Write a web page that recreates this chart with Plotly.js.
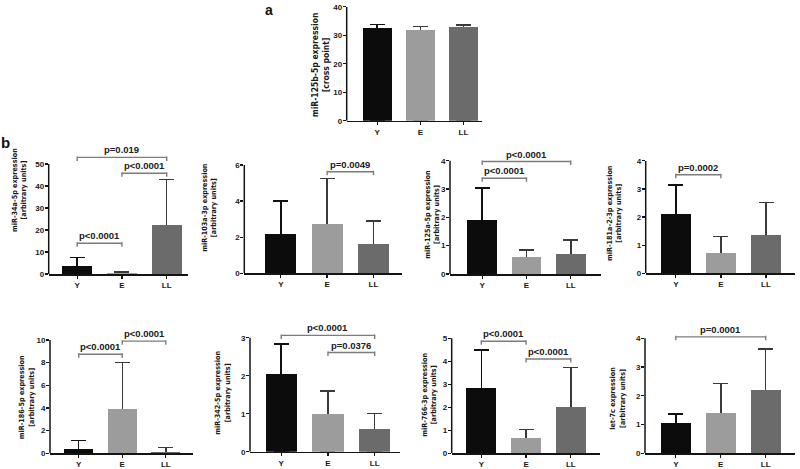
<!DOCTYPE html>
<html><head><meta charset="utf-8">
<script src="https://cdn.plot.ly/plotly-3.0.1.min.js"></script>
<style>html,body{margin:0;padding:0;background:#fff}#chart{width:800px;height:469px}</style>
</head><body><div id="chart"></div>
<script>
// ---------- data ----------
const groups = ['Y', 'E', 'LL'];

const titleA    = 'miR-125b-5p expression<br>[cross point]';
const title34a  = 'miR-34a-5p expression<br>[arbitrary units]';
const title103a = 'miR-103a-3p expression<br>[arbitrary units]';
const title125a = 'miR-125a-5p expression<br>[arbitrary units]';
const title181a = 'miR-181a-2-3p expression<br>[arbitrary units]';
const title186  = 'miR-186-5p expression<br>[arbitrary units]';
const title342  = 'miR-342-5p expression<br>[arbitrary units]';
const title766  = 'miR-766-3p expression<br>[arbitrary units]';
const titleLet7c = 'let-7c expression<br>[arbitrary units]';

const meanA = [32.5, 31.8, 32.9];   const errA = [1.2, 1.2, 0.6];
const mean34a = [3.7, 0.5, 22.1];   const err34a = [3.7, 0.3, 20.8];
const mean103a = [2.18, 2.73, 1.64]; const err103a = [1.82, 2.53, 1.26];
const mean125a = [1.91, 0.59, 0.72]; const err125a = [1.13, 0.26, 0.48];
const mean181a = [2.10, 0.71, 1.37]; const err181a = [1.04, 0.59, 1.14];
const mean186 = [0.41, 3.9, 0.15];  const err186 = [0.71, 4.1, 0.35];
const mean342 = [2.04, 0.99, 0.60]; const err342 = [0.79, 0.61, 0.41];
const mean766 = [2.83, 0.65, 2.01]; const err766 = [1.66, 0.39, 1.73];
const meanLet7c = [1.04, 1.39, 2.20]; const errLet7c = [0.32, 1.04, 1.42];

// significance brackets: [from group, to group, level, label]
const sigA = [];
const sig34a = [[0, 2, 53, 'p=0.019'], [1, 2, 45.8, 'p<0.0001'], [0, 1, 14, 'p<0.0001']];
const sig103a = [[1, 2, 5.63, 'p=0.0049']];
const sig125a = [[0, 2, 3.97, 'p<0.0001'], [0, 1, 3.38, 'p<0.0001']];
const sig181a = [[0, 1, 3.5, 'p=0.0002']];
const sig186 = [[0, 1, 8.74, 'p<0.0001'], [1, 2, 9.9, 'p<0.0001']];
const sig342 = [[0, 2, 3.06, 'p<0.0001'], [1, 2, 2.61, 'p=0.0376']];
const sig766 = [[0, 1, 4.87, 'p<0.0001'], [1, 2, 4.1, 'p<0.0001']];
const sigLet7c = [[0, 2, 4.05, 'p=0.0001']];

// ---------- layout geometry (pixels) ----------
const W = 800, H = 469;
const geo = [
  {left:346.7, right:481.5, zero:120.7, maxPx:6.7,   maxTick:40, dtick:10, c0:377.2, sp:43.1,  tx:320.3, ty:65,    ts:8.5},
  {left:48.7,  right:188,   zero:274,   maxPx:164,   maxTick:50, dtick:10, c0:77.2,  sp:44.75, tx:19,    ty:190,   ts:7.2},
  {left:244.3, right:401.5, zero:273.3, maxPx:165,   maxTick:6,  dtick:2,  c0:280.8, sp:46.35, tx:208.3, ty:207.5, ts:7.2},
  {left:450,   right:600.5, zero:274,   maxPx:160.7, maxTick:4,  dtick:1,  c0:482.2, sp:44.3,  tx:431.7, ty:214,   ts:7.2},
  {left:645.7, right:795,   zero:273.3, maxPx:160.7, maxTick:4,  dtick:1,  c0:675.8, sp:45.1,  tx:614,   ty:213,   ts:7.2},
  {left:50,    right:193.3, zero:453.3, maxPx:340,   maxTick:10, dtick:2,  c0:78.7,  sp:43.55, tx:25.8,  ty:397.5, ts:7.2},
  {left:250,   right:400,   zero:451.7, maxPx:337.7, maxTick:3,  dtick:1,  c0:281.2, sp:46.75, tx:222.5, ty:393.3, ts:7.2},
  {left:451.7, right:600,   zero:453.3, maxPx:338.3, maxTick:5,  dtick:1,  c0:481.3, sp:44.75, tx:428.8, ty:395,   ts:7.2},
  {left:645,   right:795,   zero:453.3, maxPx:338.3, maxTick:4,  dtick:1,  c0:675.8, sp:44.95, tx:617.5, ty:398.3, ts:7.2}
];

const panels = [
  {mean: meanA,     err: errA,     title: titleA,     sig: sigA},
  {mean: mean34a,   err: err34a,   title: title34a,   sig: sig34a},
  {mean: mean103a,  err: err103a,  title: title103a,  sig: sig103a},
  {mean: mean125a,  err: err125a,  title: title125a,  sig: sig125a},
  {mean: mean181a,  err: err181a,  title: title181a,  sig: sig181a},
  {mean: mean186,   err: err186,   title: title186,   sig: sig186},
  {mean: mean342,   err: err342,   title: title342,   sig: sig342},
  {mean: mean766,   err: err766,   title: title766,   sig: sig766},
  {mean: meanLet7c, err: errLet7c, title: titleLet7c, sig: sigLet7c}
];

const F = '"Liberation Sans", Arial, sans-serif';
const FN = '"Liberation Sans Narrow", "DejaVu Sans Condensed", "Liberation Sans", Arial, sans-serif';
const barColors = ['#0c0c0c', '#9c9c9c', '#6b6b6b'];
const errColors = ['#111111', '#3a3a3a', '#3a3a3a'];
const axisColor = '#141414';
const bracketColor = '#7c7c7c';

const data = [], shapes = [], annotations = [];
const layout = {
  width: W, height: H, margin: {l: 0, r: 0, t: 0, b: 0},
  paper_bgcolor: '#ffffff', plot_bgcolor: 'rgba(0,0,0,0)',
  barmode: 'overlay', showlegend: false, bargap: 0
};

panels.forEach((p, i) => {
  const g = geo[i];
  const n = i + 1;
  const sfx = n === 1 ? '' : String(n);
  const xa = 'x' + sfx, ya = 'y' + sfx;
  const sigMax = p.sig.length ? Math.max(...p.sig.map(s => s[2])) : 0;
  const top = Math.max(g.maxTick, sigMax + g.maxTick * 0.04);
  const ppu = (g.zero - g.maxPx) / g.maxTick;
  const topPx = g.zero - top * ppu;
  const tickvals = [];
  for (let v = 0; v <= g.maxTick + 1e-9; v += g.dtick) tickvals.push(v);

  layout['xaxis' + sfx] = {
    domain: [g.left / W, g.right / W], anchor: ya, type: 'category',
    categoryorder: 'array', categoryarray: groups,
    range: [(g.left - g.c0) / g.sp, (g.right - g.c0) / g.sp],
    showline: true, linecolor: axisColor, linewidth: 1.5,
    ticks: 'outside', ticklen: 3, tickwidth: 1.3, tickcolor: axisColor,
    showgrid: false, zeroline: false, fixedrange: true,
    tickfont: {family: F, size: 8, weight: 'bold', color: '#1a1a1a'}
  };
  layout['yaxis' + sfx] = {
    domain: [1 - g.zero / H, 1 - topPx / H], anchor: xa,
    range: [0, top], tickvals: tickvals, ticktext: tickvals.map(String),
    showline: false, ticks: 'outside', ticklen: 3, tickwidth: 1.3, tickcolor: axisColor,
    ticklabelstandoff: -1,
    showgrid: false, zeroline: false, fixedrange: true,
    tickfont: {family: F, size: 8, weight: 'bold', color: '#1a1a1a'}
  };

  // whisker underlay (lower part hidden by the bar drawn afterwards)
  groups.forEach((gr, k) => {
    data.push({
      type: 'bar', x: [gr], y: [p.mean[k]], xaxis: xa, yaxis: ya, width: 0.67,
      marker: {color: 'rgba(0,0,0,0)', line: {width: 0}},
      error_y: {type: 'data', symmetric: false, array: [p.err[k]], arrayminus: [p.mean[k]],
                color: errColors[k], thickness: 1.5, width: 7.5},
      hoverinfo: 'skip'
    });
  });
  groups.forEach((gr, k) => {
    data.push({
      type: 'bar', x: [gr], y: [p.mean[k]], xaxis: xa, yaxis: ya, width: 0.67,
      marker: {color: barColors[k], line: {width: 0}}, hoverinfo: 'skip'
    });
  });

  // y axis line up to the top tick
  shapes.push({type: 'line', xref: xa + ' domain', yref: ya, x0: 0, x1: 0, y0: 0, y1: g.maxTick,
               line: {color: axisColor, width: 1.5}, layer: 'above'});

  // significance brackets
  p.sig.forEach(([a, b, v, label]) => {
    shapes.push({type: 'line', xref: xa, yref: ya, x0: a, x1: b, y0: v, y1: v,
                 line: {color: bracketColor, width: 1.4}});
    [a, b].forEach(e => shapes.push({type: 'line', xref: xa, yref: ya, x0: e, x1: e,
                 ysizemode: 'pixel', yanchor: v, y0: -3.5, y1: 1,
                 line: {color: bracketColor, width: 1.4}}));
    annotations.push({xref: xa, yref: ya, x: (a + b) / 2, y: v, text: label, showarrow: false,
                      xanchor: 'center', yanchor: 'bottom', yshift: 0,
                      font: {family: F, size: 9.5, weight: 'bold', color: '#222'}});
  });

  // axis title
  annotations.push({xref: 'paper', yref: 'paper', x: g.tx / W, y: 1 - g.ty / H,
                    text: p.title, showarrow: false, textangle: -90,
                    xanchor: 'center', yanchor: 'middle',
                    font: {family: FN, size: g.ts, weight: 'bold', color: '#1a1a1a'}});
});

// panel letters
annotations.push({xref: 'paper', yref: 'paper', x: 269 / W, y: 1, text: 'a', showarrow: false,
                  xanchor: 'center', yanchor: 'top', font: {family: F, size: 14, weight: 'bold', color: '#111'}});
annotations.push({xref: 'paper', yref: 'paper', x: 5 / W, y: 1 - 142 / H, text: 'b', showarrow: false,
                  xanchor: 'center', yanchor: 'middle', font: {family: F, size: 15, weight: 'bold', color: '#111'}});

layout.shapes = shapes;
layout.annotations = annotations;

Plotly.newPlot('chart', data, layout, {staticPlot: true, displayModeBar: false});
</script>
</body></html>
